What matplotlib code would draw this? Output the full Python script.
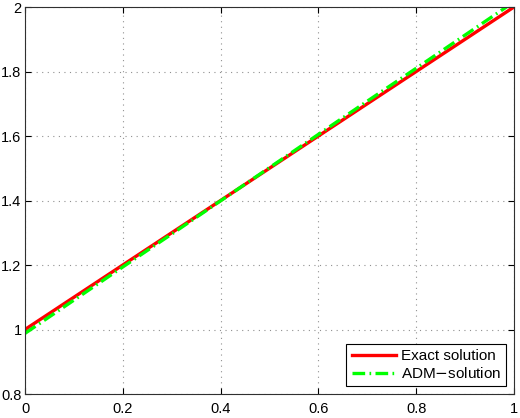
import matplotlib
matplotlib.use("Agg")
import matplotlib.pyplot as plt
import numpy as np

x = [0.0, 0.1, 0.2, 0.3, 0.4, 0.5, 0.6, 0.7, 0.8, 0.9, 1.0]
exact = [1.0, 1.1, 1.2, 1.3, 1.4, 1.5, 1.6, 1.7, 1.8, 1.9, 2.0]
adm = [0.988, 1.091, 1.194, 1.296, 1.399, 1.502, 1.605, 1.708, 1.810, 1.913, 2.016]
xticks = [0, 0.2, 0.4, 0.6, 0.8, 1]
yticks = [0.8, 1, 1.2, 1.4, 1.6, 1.8, 2]

plt.rcParams['font.family'] = ['Liberation Sans', 'DejaVu Sans']
fig = plt.figure(figsize=(5.2, 4.18), dpi=100)
ax = fig.add_axes([25/520, 24/418, 489/520, 387/418])
ax.plot(x, exact, color='#ff0000', lw=2.4, label='Exact solution')
ax.plot(x, adm, color='#00ff00', lw=2.4, dashes=(3.8, 1.3, 0.5, 1.3), label='ADM$-$solution')
ax.set_xlim(0, 1)
ax.set_ylim(0.8, 2)
ax.set_xticks(xticks)
ax.set_xticklabels([f'{t:g}' for t in xticks])
ax.set_yticks(yticks)
ax.set_yticklabels([f'{t:g}' for t in yticks])
ax.grid(True, color='#909090', linestyle=(0, (1, 4)), linewidth=0.8)
ax.tick_params(direction='in', labelsize=10.5, length=4, top=True, right=True)
ax.tick_params(axis='y', pad=2.5)
ax.tick_params(axis='x', pad=6)
for s in ax.spines.values():
    s.set_color('#303030')
    s.set_linewidth(0.8)
leg = ax.legend(loc='lower right', fontsize=11, fancybox=False, edgecolor='black',
                handlelength=2.9, handletextpad=0.3, borderpad=0.35, labelspacing=0.2,
                borderaxespad=0.5, framealpha=1)
leg.get_frame().set_linewidth(0.8)
fig.savefig('out.png', dpi=100)
